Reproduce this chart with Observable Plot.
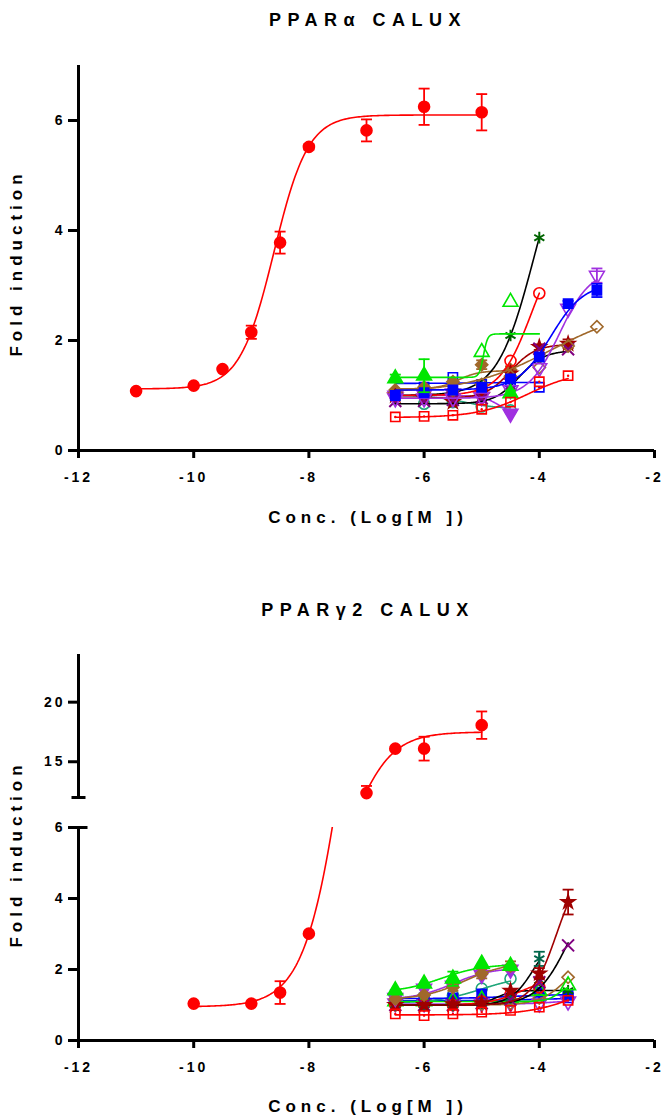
<!DOCTYPE html>
<html><head><meta charset="utf-8">
<script src="https://cdn.jsdelivr.net/npm/d3@7"></script>
<script src="https://cdn.jsdelivr.net/npm/@observablehq/plot@0.6"></script>
<style>
body{margin:0;background:#fff;}
#wrap{position:relative;width:663px;height:1119px;font-family:"Liberation Sans",Arial,sans-serif;color:#000;}
.t{position:absolute;font-weight:bold;white-space:nowrap;letter-spacing:6.5px;font-size:18px;transform:translate(-50%,-50%);}
.xl{position:absolute;font-weight:bold;white-space:nowrap;letter-spacing:5px;font-size:17px;transform:translate(-50%,-50%);}
.yl{position:absolute;font-weight:bold;white-space:nowrap;letter-spacing:5px;font-size:17px;transform:translate(-50%,-50%) rotate(-90deg);}
.p{position:absolute;left:0;}
.p svg{overflow:visible;}
</style>
</head><body><div id="wrap"></div>
<script>
// ---------- data ----------
const xTicks = [-12, -10, -8, -6, -4, -2];
const yTicksTop = [0, 2, 4, 6];
const yTicksLow = [0, 2, 4, 6];
const yTicksHigh = [15, 20];

// reference agonist, PPARalpha
const refTopX = [-11, -10, -9.5, -9, -8.5, -8, -7, -6, -5];
const refTopY = [1.08, 1.18, 1.48, 2.15, 3.78, 5.52, 5.82, 6.25, 6.15];
const refTopErr = [0, 0, 0, 0.12, 0.2, 0.05, 0.2, 0.33, 0.33];
// fit: bottom, top, logEC50, hill, xmin, xmax
const refTopFit = [1.12, 6.1, -8.606, 1.468, -11, -5];

// reference agonist, PPARgamma2
const refBotX = [-10, -9, -8.5, -8, -7, -6.5, -6, -5];
const refBotY = [1.04, 1.04, 1.35, 3.01, 12.37, 16.1, 16.1, 18.07];
const refBotErr = [0, 0, 0.32, 0, 0.6, 0.15, 1.0, 1.15];
const refBotFit = [0.95, 17.5, -7.30, 1.213, -10, -5];

// test compounds, PPARalpha
const topX = [-6.5, -6, -5.5, -5, -4.5, -4, -3.5, -3];
const topValues = [
  [1.0, 0.85, 0.88, 0.8, 0.73, null, null, null],
  [1.0, 1.02, 1.04, 0.98, 0.67, null, null, null],
  [1.02, 1.15, 1.33, 1.2, 1.25, 1.15, null, null],
  [1.1, 1.15, 1.25, 1.56, 1.47, null, null, null],
  [0.95, 1.0, 1.05, 1.2, 2.09, 3.87, null, null],
  [1.0, 1.0, 1.02, 1.1, 1.63, 2.86, null, null],
  [1.0, 0.95, 0.88, 1.0, 1.4, 1.88, 1.94, null],
  [0.9, 0.9, 0.92, 0.95, 1.2, 1.85, 1.84, null],
  [1.05, 1.05, 1.1, 1.2, 1.35, 1.51, 1.9, 2.25],
  [0.95, 0.95, 0.95, 0.97, 1.1, 1.5, 2.58, 3.18],
  [1.0, 1.05, 1.1, 1.15, 1.3, 1.7, 2.67, 2.91],
  [1.31, 1.36, null, null, 1.04, null, null, null],
  [null, null, null, 1.79, 2.7, null, null, null],
  [0.61, 0.62, 0.64, 0.75, 0.88, 1.25, 1.36, null]
];
const topErrors = [
  null, null, null,
  [0, 0, 0, 0.08, 0.06, 0, 0, 0],
  null, null,
  [0, 0, 0, 0, 0, 0.05, 0.08, 0],
  null, null,
  [0, 0, 0, 0, 0, 0, 0, 0.13],
  [0, 0, 0, 0, 0, 0, 0.05, 0.12],
  [0.07, 0.3, 0, 0, 0.05, 0, 0, 0],
  null, null
];
const topFits = [
  [1.0, 0.76, -5.3, 1.5, -6.5, -4.5],
  [1.0, 0.65, -4.7, 3, -6.5, -4.5],
  [1.22, 1.24, -5, 1, -6.5, -4],
  [1.12, 1.45, -5.4, 2.5, -6.5, -4.5],
  [1.0, 6.0, -4.095, 1.37, -6.5, -4],
  [1.0, 4.0, -4.135, 1.576, -6.5, -4],
  [0.95, 1.93, -4.5, 2, -6.5, -3.5],
  [0.85, 1.82, -4.35, 2.0, -6.5, -3.5],
  [1.05, 2.6, -3.8, 0.6, -6.5, -3],
  [0.95, 3.3, -3.65, 1.6, -6.5, -3],
  [1.1, 3.05, -3.8, 1.5, -6.5, -3],
  null,
  [1.33, 2.12, -4.97, 12, -6.5, -4],
  [0.6, 1.45, -4.2, 1.0, -6.5, -3.5]
];
const topSymbols = ["circle","tridown","square","diamond","asterisk","circle","star","times","diamond","tridown","square","triangle","triangle","square"];
const topFilled = [false,true,false,true,false,false,true,false,false,false,true,true,false,false];
const topMarkColors = ["#1fa67a","#a030e0","#0000ff","#a0682a","#006400","#ff0000","#a00000","#800080","#a0682a","#a030e0","#0000ff","#00e600","#00e600","#ff0000"];
const topLineColors = ["#1fa67a","#a030e0","#0000ff","#a0682a","#000000","#ff0000","#a00000","#000000","#a0682a","#a030e0","#0000ff","#00e600","#00e600","#ff0000"];

// test compounds, PPARgamma2
const botX = [-6.5, -6, -5.5, -5, -4.5, -4, -3.5];
const botValues = [
  [1.3, 1.1, 1.1, 1.1, 1.1, 1.2, 1.2],
  [1.05, 1.05, 1.05, 1.05, 1.05, 1.05, 1.1],
  [1.07, 1.13, 1.27, 1.46, 1.74, null, null],
  [1.25, 1.2, 1.2, 1.31, 1.2, 1.36, 1.27],
  [1.0, 1.0, 1.0, 1.05, 1.35, 1.69, 1.4],
  [1.0, 1.0, 1.0, 1.02, 1.05, 1.2, 1.78],
  [1.1, 1.1, 1.12, 1.15, 1.2, 1.4, 1.55],
  [1.0, 1.0, 1.0, 1.1, 1.3, 1.5, null],
  [1.0, 1.0, 1.0, 1.05, 1.2, 2.3, null],
  [1.0, 1.0, 1.0, 1.05, 1.15, 1.64, 2.68],
  [1.0, 1.0, 1.02, 1.05, 1.4, 1.89, 3.9],
  [1.2, 1.46, 1.55, 1.85, 2.0, null, null],
  [1.17, 1.28, 1.5, 1.88, 2.1, null, null],
  [1.41, 1.6, 1.74, 2.16, 2.1, null, null],
  [0.75, 0.7, 0.75, 0.8, 0.85, 0.94, 1.13]
];
const botErrors = [
  null, null, null,
  [0, 0, 0, 0, 0, 0.05, 0.05],
  null, null, null, null,
  [0, 0, 0, 0, 0, 0.2, 0],
  null,
  [0, 0, 0, 0, 0, 0.15, 0.35],
  null,
  [0, 0, 0.1, 0.13, 0.13, 0, 0],
  [0, 0, 0.2, 0, 0, 0, 0],
  null
];
const botFits = [
  [1.12, 1.2, -4, 1, -6.5, -3.5],
  [1.03, 1.12, -3.8, 2, -6.5, -3.5],
  [1.05, 1.85, -5.0, 1.1, -6.5, -4.5],
  [1.18, 1.3, -4.5, 1, -6.5, -3.5],
  [1.0, 1.41, -4.75, 3, -6.5, -3.5],
  [1.0, 2.5, -3.5, 1.8, -6.5, -3.5],
  [1.1, 1.6, -3.65, 4, -6.5, -3.5],
  [1.0, 1.8, -4.3, 1.5, -6.5, -4],
  [1.0, 3.0, -4.1, 2.2, -6.5, -4],
  [1.0, 4.5, -3.5, 1.6, -6.5, -3.5],
  [1.0, 5.0, -3.7, 2.0, -6.5, -3.5],
  [1.15, 2.05, -5.5, 1.3, -6.5, -4.5],
  [1.15, 2.2, -5.3, 1.2, -6.5, -4.5],
  [1.35, 2.15, -5.7, 1.2, -6.5, -4.5],
  [0.72, 1.8, -3.3, 1.0, -6.5, -3.5]
];
const botSymbols = ["square","tridown","circle","square","asterisk","diamond","triangle","circle","asterisk","times","star","tridown","diamond","triangle","square"];
const botFilled = [false,false,false,true,false,false,false,false,false,false,true,true,true,true,false];
const botMarkColors = ["#0000ff","#a030e0","#1fa67a","#0000ff","#006400","#a0682a","#00e600","#ff0000","#00664a","#800080","#a00000","#a030e0","#a0682a","#00e600","#ff0000"];
const botLineColors = ["#0000ff","#a030e0","#1fa67a","#0000ff","#000000","#a0682a","#00e600","#ff0000","#000000","#000000","#a00000","#a030e0","#a0682a","#00e600","#ff0000"];

// ---------- helpers ----------
const capSym = {draw(ctx, size){ const w = Math.sqrt(size/Math.PI); ctx.moveTo(-w,0); ctx.lineTo(w,0); }};
function fitCurve(p){
  const [b,t,c,h,x0,x1] = p; const n = 200;
  return d3.range(n+1).map(i => { const x = x0 + (x1-x0)*i/n; return {x, y: b + (t-b)/(1+Math.pow(10,(c-x)*h))}; });
}
function symInfo(s){
  if (s === "tridown") return {symbol: "triangle", rotate: 180};
  if (s === "diamond") return {symbol: "diamond2", rotate: 0};
  return {symbol: s, rotate: 0};
}
function markerSize(s){
  if (s === "square") return 5.2;
  if (s === "star") return 4.3;
  return 5.5;
}
function seriesMarks(xs, vals, errs, fit, sym, filled, mcol, lcol, r, yFilter){
  const pts = xs.map((x,i) => ({x, y: vals[i], e: errs ? errs[i] : 0}))
    .filter(d => d.y != null && yFilter(d.y));
  const marks = [];
  if (fit) marks.push(Plot.line(fitCurve(fit), {x:"x", y:"y", stroke: lcol, strokeWidth: 1.6, clip: true}));
  const ep = pts.filter(d => d.e > 0);
  if (ep.length){
    marks.push(Plot.ruleX(ep, {x:"x", y1: d => d.y - d.e, y2: d => d.y + d.e, stroke: mcol, strokeWidth: 1.8, clip: true}));
    marks.push(Plot.dot(ep, {x:"x", y: d => d.y + d.e, symbol: capSym, r: 5.5, stroke: mcol, strokeWidth: 1.8, clip: true}));
    marks.push(Plot.dot(ep, {x:"x", y: d => d.y - d.e, symbol: capSym, r: 5.5, stroke: mcol, strokeWidth: 1.8, clip: true}));
  }
  const si = symInfo(sym);
  const lineSym = (sym === "asterisk" || sym === "times");
  marks.push(Plot.dot(pts, {x:"x", y:"y", symbol: si.symbol, rotate: si.rotate, r,
    fill: (filled && !lineSym) ? mcol : "none", stroke: mcol, strokeWidth: lineSym ? 2 : 1.6}));
  if (sym === "square" && !filled) marks.push(Plot.dot(pts, {x:"x", y:"y", r: 1.2, fill: mcol}));
  return marks;
}
function clusterMarks(xs, values, errors, fits, symbols, filled, mcols, lcols, yFilter){
  return values.flatMap((v,i) => seriesMarks(xs, v, errors[i], fits[i], symbols[i], filled[i], mcols[i], lcols[i], markerSize(symbols[i]), yFilter));
}
function refMarks(xs, ys, errs, fit, yFilter){
  return seriesMarks(xs, ys, errs, fit, "circle", true, "#ff0000", "#ff0000", 5.5, yFilter);
}
const fmt = d => String(d);
const baseStyle = {fontFamily: "'Liberation Sans', Arial, sans-serif", fontSize: "14px", fontWeight: "bold", letterSpacing: "3px", color: "#000", background: "transparent", overflow: "visible"};

const wrap = document.getElementById("wrap");
function add(el, top){ const d = document.createElement("div"); d.className = "p"; d.style.top = top + "px"; d.appendChild(el); wrap.appendChild(d); }
function txt(cls, s, x, y){ const d = document.createElement("div"); d.className = cls; d.textContent = s; d.style.left = x + "px"; d.style.top = y + "px"; wrap.appendChild(d); }

const all = () => true;

// ---------- top panel ----------
const topPlot = Plot.plot({
  width: 663, height: 450, marginLeft: 78, marginRight: 9, marginTop: 15, marginBottom: 50,
  x: {domain: [-12, -2]}, y: {domain: [0, 7]},
  style: baseStyle,
  marks: [
    ...clusterMarks(topX, topValues, topErrors, topFits, topSymbols, topFilled, topMarkColors, topLineColors, all),
    ...refMarks(refTopX, refTopY, refTopErr, refTopFit, all),
    Plot.ruleY([0], {strokeWidth: 3}),
    Plot.ruleX([-12], {strokeWidth: 3}),
    Plot.axisY(yTicksTop, {tickSize: 10, tickPadding: 3, strokeWidth: 3, tickFormat: fmt, label: null}),
    Plot.axisX(xTicks, {tickSize: 8, tickPadding: 14, strokeWidth: 3, tickFormat: fmt, label: null})
  ]
});
add(topPlot, 50);

// ---------- bottom panel, upper segment ----------
const highPlot = Plot.plot({
  width: 663, height: 162, marginLeft: 78, marginRight: 9, marginTop: 14, marginBottom: 5,
  x: {domain: [-12, -2], axis: null}, y: {domain: [12, 24]},
  style: baseStyle,
  marks: [
    ...refMarks(refBotX, refBotY, refBotErr, refBotFit, y => y >= 12),
    Plot.ruleX([-12], {strokeWidth: 3}),
    Plot.dot([12], {x: () => -12, y: d => d, symbol: capSym, r: 7, stroke: "#000", strokeWidth: 3}),
    Plot.axisY(yTicksHigh, {tickSize: 10, tickPadding: 3, strokeWidth: 3, tickFormat: fmt, label: null})
  ]
});
add(highPlot, 640);

// ---------- bottom panel, lower segment ----------
const lowPlot = Plot.plot({
  width: 663, height: 278, marginLeft: 78, marginRight: 9, marginTop: 15, marginBottom: 50,
  x: {domain: [-12, -2]}, y: {domain: [0, 6]},
  style: baseStyle,
  marks: [
    ...clusterMarks(botX, botValues, botErrors, botFits, botSymbols, botFilled, botMarkColors, botLineColors, all),
    ...refMarks(refBotX, refBotY, refBotErr, refBotFit, y => y <= 6),
    Plot.ruleY([0], {strokeWidth: 3}),
    Plot.ruleX([-12], {strokeWidth: 3}),
    Plot.dot([6], {x: () => -12, y: d => d, symbol: capSym, r: 9, stroke: "#000", strokeWidth: 3}),
    Plot.axisY(yTicksLow, {tickSize: 10, tickPadding: 3, strokeWidth: 3, tickFormat: fmt, label: null}),
    Plot.axisX(xTicks, {tickSize: 8, tickPadding: 14, strokeWidth: 3, tickFormat: fmt, label: null})
  ]
});
add(lowPlot, 812);

// ---------- text ----------
txt("t", "PPARα CALUX", 368, 20);
txt("xl", "Conc. (Log[M ])", 368, 518);
txt("yl", "Fold induction", 17, 263);
txt("t", "PPARγ2 CALUX", 368, 610);
txt("yl", "Fold induction", 17, 854);
txt("xl", "Conc. (Log[M ])", 368, 1107);
</script>
</body></html>
